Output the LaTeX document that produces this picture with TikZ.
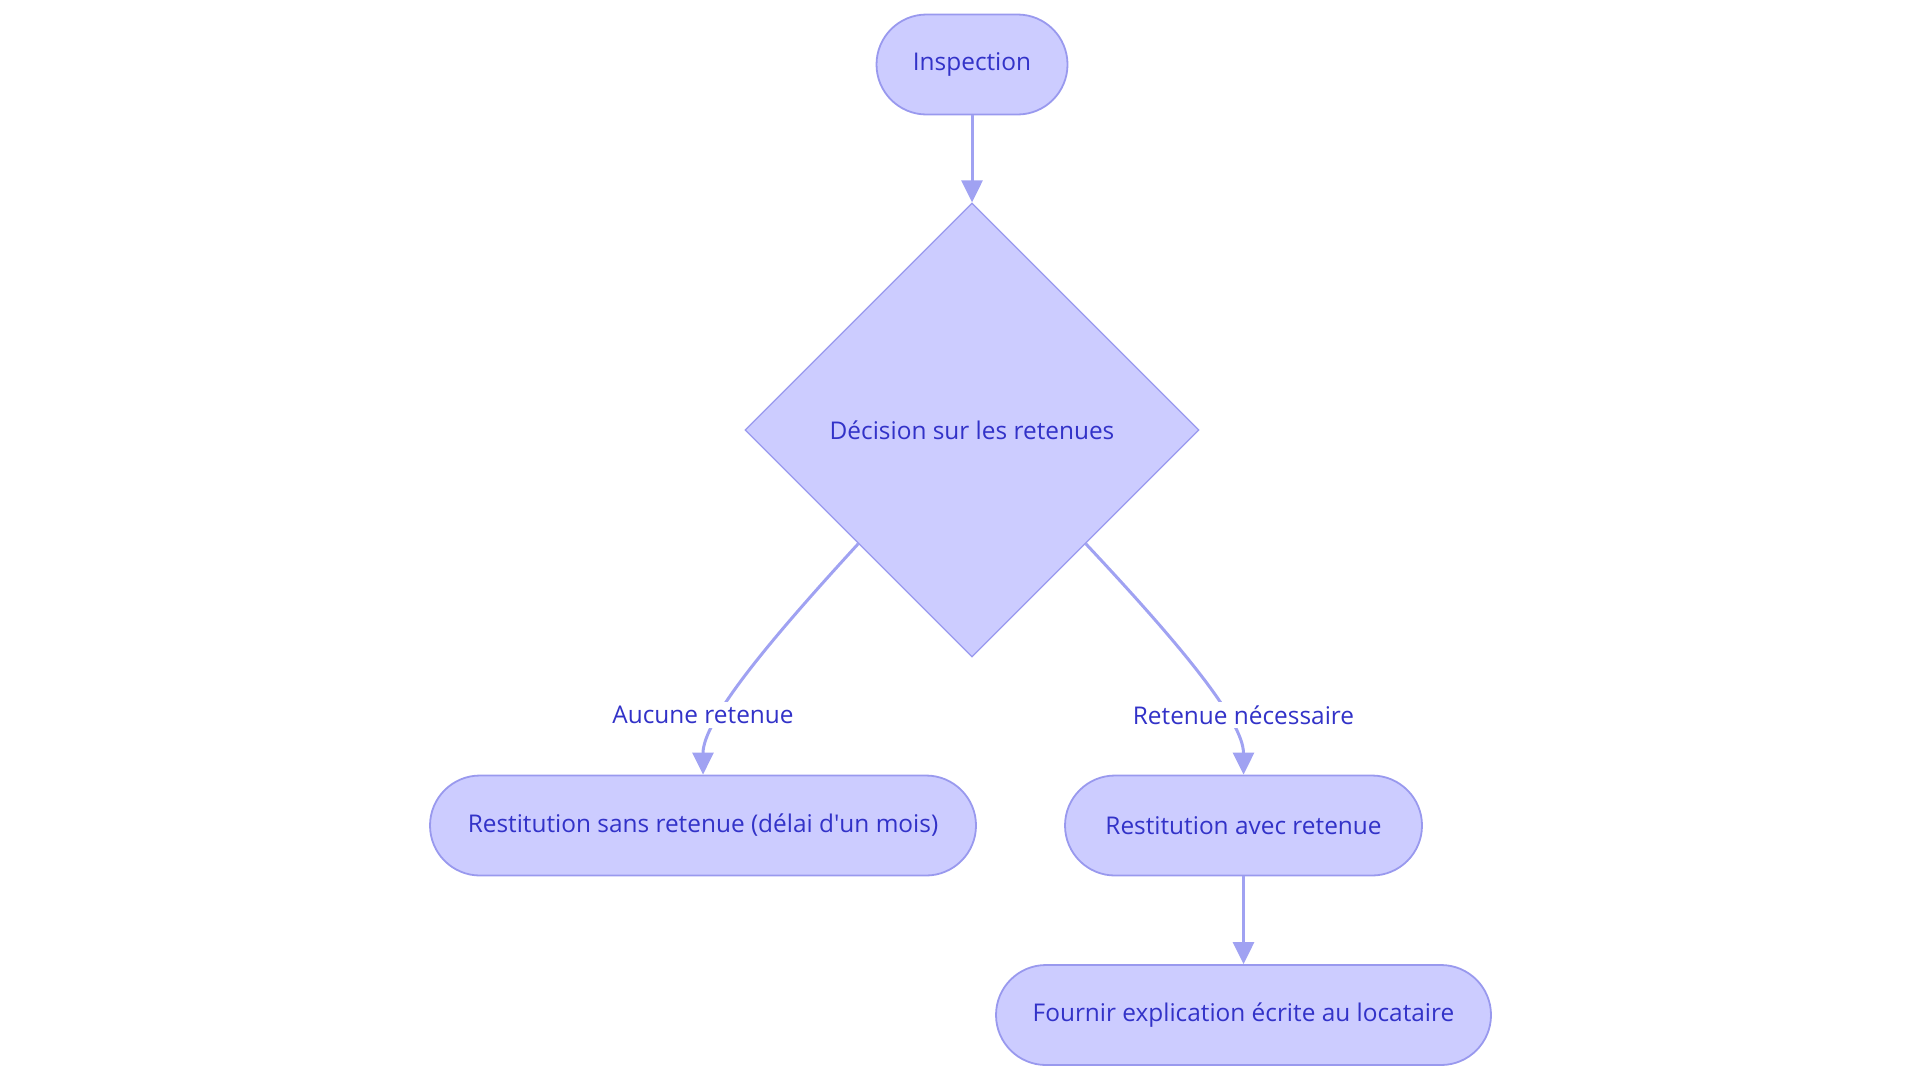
\documentclass[tikz,border=0pt]{standalone}
\usepackage{fontspec}
\setmainfont{Open Sans}
\usepackage{tikz}
\usetikzlibrary{shapes,arrows.meta}
\definecolor{boxfill}{RGB}{204,204,255}
\definecolor{boxline}{RGB}{153,153,238}
\definecolor{flowline}{RGB}{160,162,242}
\definecolor{boxtext}{RGB}{50,50,200}
\newcommand{\flowfont}{\fontsize{12.2}{14}\selectfont}
\tikzstyle{stadium} = [draw=boxline, fill=boxfill, line width=0.9pt, rounded corners=25pt, minimum height=50pt, text=boxtext, font=\flowfont]
\tikzstyle{decision} = [draw=boxline, fill=boxfill, line width=0.6pt, diamond, aspect=1, minimum width=227pt, minimum height=227pt, inner sep=0pt, text=boxtext, font=\flowfont]
\tikzstyle{line} = [draw=flowline, line width=1.5pt, -{Triangle[length=11pt,width=10.5pt]}]
\tikzstyle{edgelabel} = [fill=white, text=boxtext, inner sep=2pt, font=\flowfont]

\begin{document}
\begin{tikzpicture} [x=0.5pt, y=-0.5pt]

		\useasboundingbox (0,0) rectangle (1920,1083);

		\node [stadium, minimum width=95.5pt] (insp) at (972,64.5) {Inspection};
		\node [decision] (dec) at (972,430) {Décision sur les retenues};
		\node [stadium, minimum width=273pt] (sans) at (703,825.5) {Restitution sans retenue (délai d\textquotesingle un mois)};
		\node [stadium, minimum width=178.5pt] (avec) at (1243.5,825.5) {Restitution avec retenue};
		\node [stadium, minimum width=247.5pt] (expl) at (1243.5,1015) {Fournir explication écrite au locataire};

		\draw [line] (insp) -- (dec);
		\draw [line] (dec.south west) .. controls (770,640) and (703,720) .. (sans.north)
			node [edgelabel] (noret) at (703,715) {Aucune retenue};
		\draw [line] (dec.south east) .. controls (1176,640) and (1243.5,720) .. (avec.north)
			node [edgelabel] (ret) at (1243.5,715) {Retenue nécessaire};
		\draw [line] (avec) -- (expl);

\end{tikzpicture}
\end{document}
